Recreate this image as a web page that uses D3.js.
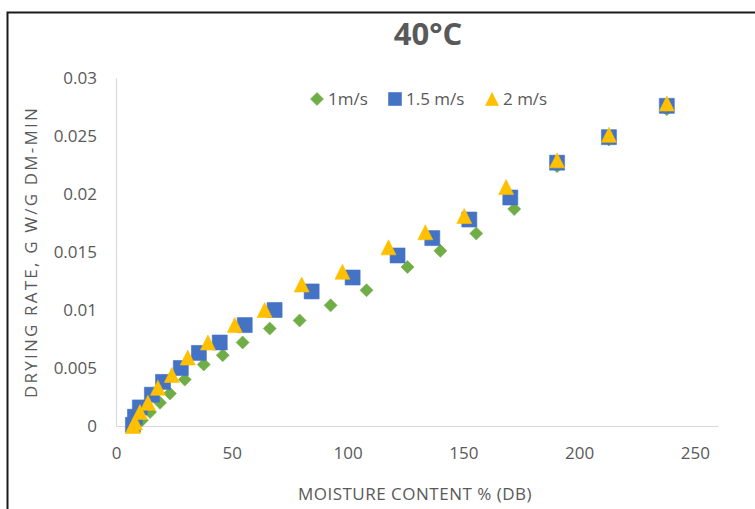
<!DOCTYPE html>
<html>
<head>
<meta charset="utf-8">
<script src="https://cdn.jsdelivr.net/npm/d3@7"></script>
<style>
  body { margin: 0; background: #fff; }
  svg { display: block; }
</style>
</head>
<body>
<svg id="chart" width="755" height="509"></svg>
<script>
// Drying rate vs. moisture content at 40 °C for three air velocities
const chartTitle = "40°C";
const xTitle = "MOISTURE CONTENT % (DB)";
const yTitle = "DRYING RATE, G W/G DM-MIN";
const seriesNames = ["1m/s", "1.5 m/s", "2 m/s"];

// 1 m/s
const moisture1 = [9.1, 11.2, 14.7, 19.0, 23.3, 29.7, 37.9, 46.1, 54.7, 66.4, 79.3, 92.7, 108.2, 125.9, 140.1, 155.6, 172.0, 190.5, 212.9, 237.9];
const rate1     = [0.0002, 0.0005, 0.0012, 0.0020, 0.0028, 0.0040, 0.0053, 0.0061, 0.0072, 0.0084, 0.0091, 0.0104, 0.0117, 0.0137, 0.0151, 0.0166, 0.0187, 0.0224, 0.0247, 0.0273];

// 1.5 m/s
const moisture15 = [7.3, 8.2, 10.3, 15.5, 20.3, 28.0, 35.8, 44.8, 55.6, 68.5, 84.5, 102.2, 121.6, 136.6, 152.6, 170.3, 190.5, 212.9, 237.9];
const rate15     = [0.0001, 0.0008, 0.0016, 0.0027, 0.0038, 0.0050, 0.0063, 0.0072, 0.0087, 0.0100, 0.0116, 0.0128, 0.0147, 0.0162, 0.0178, 0.0197, 0.0227, 0.0249, 0.0276];

// 2 m/s
const moisture2 = [7.3, 8.2, 10.3, 13.8, 18.1, 24.1, 31.0, 39.7, 51.3, 64.2, 80.2, 97.8, 117.7, 133.6, 150.4, 168.5, 190.5, 212.9, 237.9];
const rate2     = [0.0000, 0.0003, 0.0012, 0.0020, 0.0033, 0.0044, 0.0059, 0.0072, 0.0087, 0.0100, 0.0122, 0.0133, 0.0154, 0.0167, 0.0181, 0.0206, 0.0229, 0.0251, 0.0278];

const xTicks = [0, 50, 100, 150, 200, 250];
const yTicks = [0, 0.005, 0.01, 0.015, 0.02, 0.025, 0.03];

const colors = ["#70AD47", "#4472C4", "#FFC000"];
const shapes = ["diamond", "square", "triangle"];

const svg = d3.select("#chart");
const textColor = "#595959";
const font = "'Open Sans', sans-serif";

// outer frame
svg.append("rect")
  .attr("x", 7.5).attr("y", 12.5)
  .attr("width", 800).attr("height", 600)
  .attr("fill", "none").attr("stroke", "#1a1a1a").attr("stroke-width", 2);

const x = d3.scaleLinear().domain([0, 260]).range([116, 718]);
const y = d3.scaleLinear().domain([0, 0.03]).range([426, 78]);

// marker path centred on the origin
function markerPath(shape, s) {
  const h = s / 2;
  if (shape === "diamond") return `M0,${-h}L${h},0L0,${h}L${-h},0Z`;
  if (shape === "square") return `M${-h},${-h}H${h}V${h}H${-h}Z`;
  return `M0,${-h}L${h},${h}L${-h},${h}Z`;
}
const markerSize = [13, 15, 15];

// axes
const xAxis = svg.append("g")
  .attr("transform", `translate(0,${y(0)})`)
  .call(d3.axisBottom(x).tickValues(xTicks).tickSize(0).tickSizeOuter(0).tickPadding(21).tickFormat(d3.format("d")));
const yAxis = svg.append("g")
  .attr("transform", `translate(${x(0)},0)`)
  .call(d3.axisLeft(y).tickValues(yTicks).tickSize(0).tickSizeOuter(0).tickPadding(19)
    .tickFormat(d => d === 0 ? "0" : String(+d.toFixed(3))));
[xAxis, yAxis].forEach(g => {
  g.select(".domain").attr("stroke", "#d9d9d9").attr("stroke-width", 1.2);
  g.selectAll("text").attr("fill", textColor).attr("font-family", font).attr("font-size", 17);
});

// series
const series = [
  { xs: moisture1, ys: rate1 },
  { xs: moisture15, ys: rate15 },
  { xs: moisture2, ys: rate2 }
];
series.forEach((s, i) => {
  const pts = s.xs.map((v, k) => [v, s.ys[k]]);
  svg.append("g").selectAll("path")
    .data(pts)
    .join("path")
    .attr("d", markerPath(shapes[i], markerSize[i]))
    .attr("transform", d => `translate(${x(d[0])},${y(d[1])})`)
    .attr("fill", colors[i])
    .attr("stroke", colors[i])
    .attr("stroke-width", 0.6);
});

// title
svg.append("text")
  .attr("x", 428).attr("y", 45)
  .attr("text-anchor", "middle")
  .attr("font-family", font).attr("font-weight", 700).attr("font-size", 31)
  .attr("fill", textColor)
  .text(chartTitle);

// axis titles
svg.append("text")
  .attr("x", 415).attr("y", 500)
  .attr("text-anchor", "middle")
  .attr("font-family", font).attr("font-size", 17).attr("letter-spacing", 0.5)
  .attr("fill", textColor)
  .text(xTitle);
svg.append("text")
  .attr("transform", `translate(37,252) rotate(-90)`)
  .attr("text-anchor", "middle")
  .attr("font-family", font).attr("font-size", 17).attr("letter-spacing", 2.2)
  .attr("fill", textColor)
  .text(yTitle);

// legend
const legendX = [317, 395, 492];
const legend = svg.append("g");
seriesNames.forEach((name, i) => {
  const g = legend.append("g").attr("transform", `translate(${legendX[i]},99)`);
  g.append("path")
    .attr("d", markerPath(shapes[i], 13))
    .attr("fill", colors[i]).attr("stroke", colors[i]).attr("stroke-width", 0.6);
  g.append("text")
    .attr("x", 11).attr("y", 6)
    .attr("font-family", font).attr("font-size", 17)
    .attr("fill", textColor)
    .text(name);
});
</script>
</body>
</html>
